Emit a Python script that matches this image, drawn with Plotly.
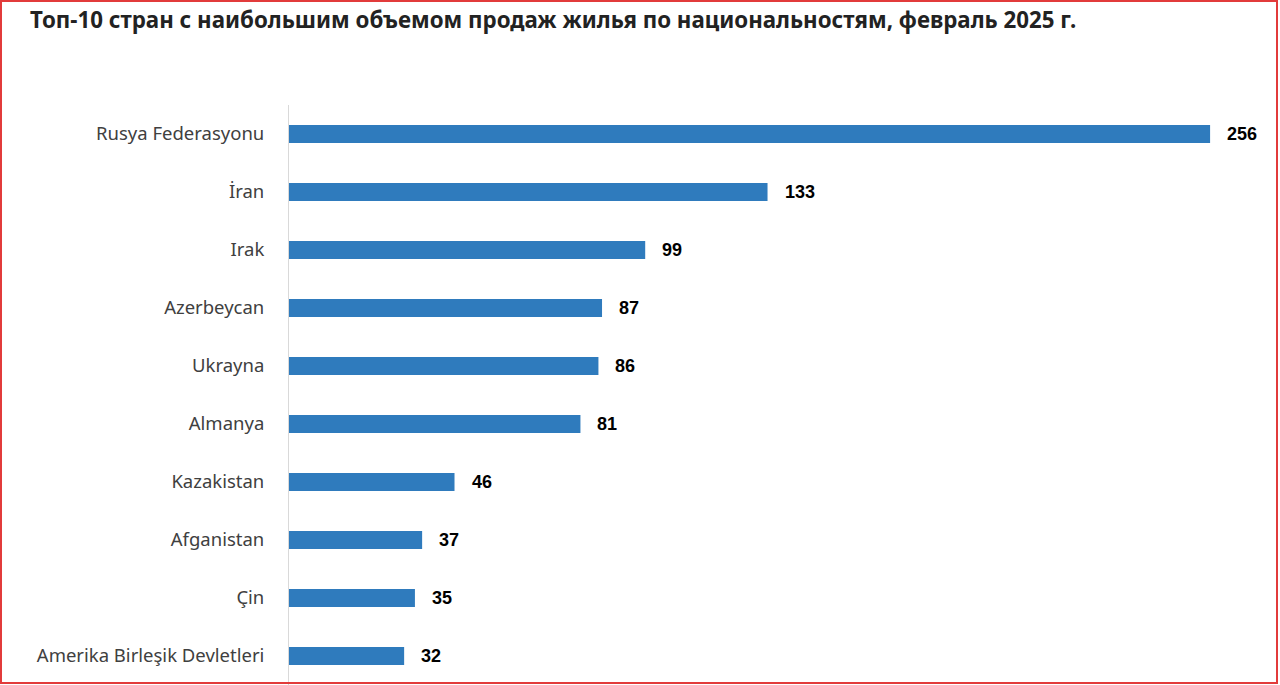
import plotly.graph_objects as go

countries = ["Rusya Federasyonu", "İran", "Irak", "Azerbeycan", "Ukrayna",
             "Almanya", "Kazakistan", "Afganistan", "Çin", "Amerika Birleşik Devletleri"]
sales = [256, 133, 99, 87, 86, 81, 46, 37, 35, 32]
title = "Топ-10 стран с наибольшим объемом продаж жилья по национальностям, февраль 2025 г."

W, H = 1280, 685
L, R, T, B = 289, 20, 105, 0
PW, PH = W - L - R, H - T - B

fig = go.Figure()
fig.add_trace(go.Bar(
    x=sales, y=countries, orientation="h",
    marker=dict(color="#2f7bbd", line=dict(width=0)),
    width=0.31, hoverinfo="x+y",
))

for c, v in zip(countries, sales):
    fig.add_annotation(x=v, y=c, text=f"<b>{v}</b>", showarrow=False,
                       xanchor="left", xshift=15, yshift=0,
                       font=dict(family="Liberation Sans, Arial", size=18, color="#000000"))

def px2x(px):
    return (px - L) / PW

def py2y(py):
    return (H - B - py) / PH

fig.add_shape(type="rect", xref="paper", yref="paper",
              x0=px2x(1), x1=px2x(1277), y0=py2y(683), y1=py2y(1),
              line=dict(color="#e23b3b", width=2), fillcolor="rgba(0,0,0,0)", layer="above")

fig.update_layout(
    width=W, height=H,
    margin=dict(l=L, r=R, t=T, b=B, pad=0),
    paper_bgcolor="white", plot_bgcolor="white",
    showlegend=False,
    title=dict(text=f"<b>{title}</b>", x=30 / W, xanchor="left", xref="container",
               y=1 - 20 / H, yanchor="middle", yref="container",
               font=dict(family="Noto Sans", size=22.3, color="#222222")),
    xaxis=dict(range=[0, PW / 3.598], showgrid=False, zeroline=False,
               showticklabels=False, showline=False, ticks=""),
    yaxis=dict(range=[9.5, -0.5], type="category", categoryorder="array",
               categoryarray=countries, showgrid=False, zeroline=False,
               showline=True, linecolor="#d9d9d9", linewidth=1, ticks="",
               ticklabelstandoff=20,
               tickfont=dict(family="Noto Sans", size=18.5, color="#404040")),
)

fig.write_html("out.html")
